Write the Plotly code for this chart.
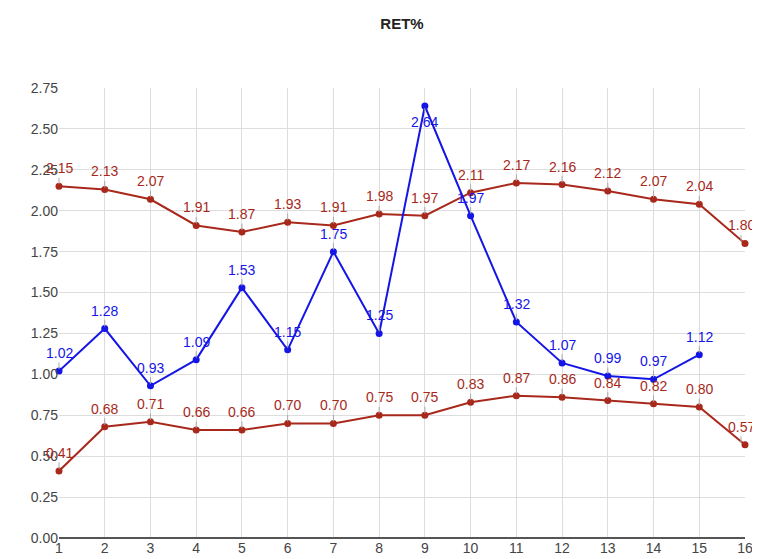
import plotly.graph_objects as go

x_cats = list(range(1, 17))
upper_red = [2.15, 2.13, 2.07, 1.91, 1.87, 1.93, 1.91, 1.98, 1.97, 2.11, 2.17, 2.16, 2.12, 2.07, 2.04, 1.80]
blue_vals = [1.02, 1.28, 0.93, 1.09, 1.53, 1.15, 1.75, 1.25, 2.64, 1.97, 1.32, 1.07, 0.99, 0.97, 1.12]
lower_red = [0.41, 0.68, 0.71, 0.66, 0.66, 0.70, 0.70, 0.75, 0.75, 0.83, 0.87, 0.86, 0.84, 0.82, 0.80, 0.57]
y_ticks = [0, 0.25, 0.5, 0.75, 1.0, 1.25, 1.5, 1.75, 2.0, 2.25, 2.5, 2.75]

RED = "#a8291b"
BLUE = "#1515e6"
FONT = "Liberation Sans, Arial, sans-serif"

fig = go.Figure()
series = [(upper_red, RED), (lower_red, RED), (blue_vals, BLUE)]
for vals, col in series:
    fig.add_trace(go.Scatter(
        x=x_cats[:len(vals)], y=vals, mode="lines+markers",
        line=dict(color=col, width=2), marker=dict(color=col, size=7),
        showlegend=False, hoverinfo="skip", cliponaxis=False))

annotations = []
for vals, col in series:
    ymax = max(y_ticks)
    for xi, v in zip(x_cats, vals):
        below = v > ymax - 0.2
        annotations.append(dict(
            x=xi, y=v, xref="x", yref="y", text=f"{v:.2f}",
            showarrow=True, arrowhead=0, arrowwidth=1, arrowcolor="#aaaaaa",
            ax=0, ay=(16 if below else -18), standoff=2,
            xshift=(-4 if xi == x_cats[-1] else 0),
            font=dict(family=FONT, size=14, color=col)))

fig.update_layout(
    template="none",
    width=760, height=559,
    margin=dict(l=51, r=23, t=80, b=29, autoexpand=False),
    paper_bgcolor="white", plot_bgcolor="white",
    title=dict(text="<b>RET%</b>", x=(51 + 686 / 2) / 760, xanchor="center", y=0.972, yanchor="middle",
               font=dict(family=FONT, size=15, color="#222222")),
    annotations=annotations,
    xaxis=dict(range=[1, 16], tickvals=x_cats, ticktext=[str(v) for v in x_cats],
               showgrid=True, gridcolor="#dddddd", gridwidth=1, zeroline=False,
               tickfont=dict(family=FONT, size=14, color="#444444"), ticks="",
               showline=False, fixedrange=True, automargin=False),
    yaxis=dict(range=[0, 2.75], tickvals=y_ticks, ticktext=[f"{v:.2f}" for v in y_ticks],
               showgrid=True, gridcolor="#dddddd", gridwidth=1,
               zeroline=True, zerolinecolor="#555555", zerolinewidth=1.5,
               tickfont=dict(family=FONT, size=14, color="#444444"), ticks="",
               showline=False, fixedrange=True, automargin=False),
)

fig.write_html("out.html")
